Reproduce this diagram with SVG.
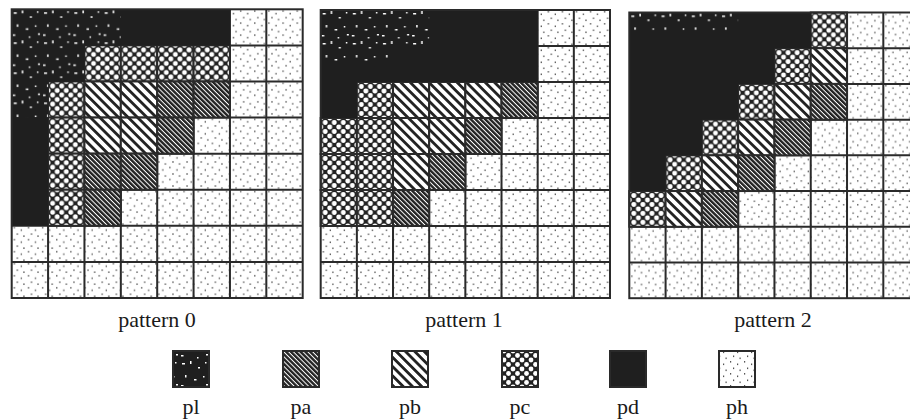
<svg xmlns="http://www.w3.org/2000/svg" width="910" height="420" viewBox="0 0 910 420">
<style>
.lbl{font-family:"Liberation Serif","Times New Roman",serif;font-size:22px;fill:#1a1a1a;text-anchor:middle}
.grid{fill:none;stroke:#2a2a2a;stroke-width:2}
.pa{fill:url(#pa);stroke:#2a2a2a;stroke-width:2}
.pb{fill:url(#pb);stroke:#2a2a2a;stroke-width:2}
.pc{fill:url(#pc);stroke:#2a2a2a;stroke-width:2}
.pd{fill:#1f1f1f}
.pl{fill:url(#pl)}
.ph{fill:url(#ph)}
.box{stroke:#2a2a2a;stroke-width:2}
</style>
<defs>
<pattern id="ph" width="14" height="12" patternUnits="userSpaceOnUse">
<rect width="14" height="12" fill="#fff"/>
<rect x="2" y="1" width="1.2" height="1.6" fill="#555"/>
<rect x="9" y="3.5" width="1.2" height="1.6" fill="#555"/>
<rect x="5" y="7.5" width="1.2" height="1.6" fill="#555"/>
<rect x="11.5" y="9.5" width="1.2" height="1.6" fill="#555"/>
</pattern>
<pattern id="pa" width="10" height="3.4" patternUnits="userSpaceOnUse" patternTransform="rotate(45)">
<rect width="10" height="3.4" fill="#222"/>
<rect y="0" width="10" height="1" fill="#fff"/>
</pattern>
<pattern id="pb" width="10" height="6.6" patternUnits="userSpaceOnUse" patternTransform="rotate(45)">
<rect width="10" height="6.6" fill="#fff"/>
<rect y="0" width="10" height="2.8" fill="#222"/>
</pattern>
<pattern id="pc" width="9" height="9" patternUnits="userSpaceOnUse">
<rect width="9" height="9" fill="#222"/>
<circle cx="0" cy="0" r="2.4" fill="#fff"/>
<circle cx="9" cy="0" r="2.4" fill="#fff"/>
<circle cx="0" cy="9" r="2.4" fill="#fff"/>
<circle cx="9" cy="9" r="2.4" fill="#fff"/>
<circle cx="4.5" cy="4.5" r="2.4" fill="#fff"/>
</pattern>
<pattern id="pl" width="30" height="30" patternUnits="userSpaceOnUse">
<rect width="30" height="30" fill="#1f1f1f"/>
<g fill="#fff">
<rect x="2" y="3" width="3" height="1.5"/><rect x="10" y="1" width="1.5" height="3"/>
<rect x="18" y="7" width="2" height="1.5"/><rect x="25" y="2" width="1.5" height="1.5"/>
<rect x="5" y="15" width="1.5" height="2.5"/><rect x="14" y="19" width="2.5" height="1.5"/>
<rect x="23" y="16" width="1.5" height="1.5"/><rect x="1" y="25" width="2.5" height="1.5"/>
<rect x="17" y="27" width="1.5" height="1.5"/><rect x="26" y="24" width="2" height="1.5"/>
</g>
</pattern>
<path id="lines" d="M36 0V288M72 0V288M108 0V288M144 0V288M180 0V288M216 0V288M252 0V288M0 36H288M0 72H288M0 108H288M0 144H288M0 180H288M0 216H288M0 252H288"/>
</defs>

<g id="pattern0" transform="translate(11.7 9.3) scale(1.0104 1.0024)">
<rect class="ph" width="288" height="288"/>
<use href="#lines" class="grid"/>
<rect class="pc" x="72" y="36" width="36" height="36"/><rect class="pc" x="108" y="36" width="36" height="36"/><rect class="pc" x="144" y="36" width="36" height="36"/><rect class="pc" x="180" y="36" width="36" height="36"/>
<rect class="pc" x="36" y="72" width="36" height="36"/><rect class="pb" x="72" y="72" width="36" height="36"/><rect class="pb" x="108" y="72" width="36" height="36"/><rect class="pa" x="144" y="72" width="36" height="36"/><rect class="pa" x="180" y="72" width="36" height="36"/>
<rect class="pc" x="36" y="108" width="36" height="36"/><rect class="pb" x="72" y="108" width="36" height="36"/><rect class="pb" x="108" y="108" width="36" height="36"/><rect class="pa" x="144" y="108" width="36" height="36"/>
<rect class="pc" x="36" y="144" width="36" height="36"/><rect class="pa" x="72" y="144" width="36" height="36"/><rect class="pa" x="108" y="144" width="36" height="36"/>
<rect class="pc" x="36" y="180" width="36" height="36"/><rect class="pa" x="72" y="180" width="36" height="36"/>
<path class="pd" d="M0 0H216V36H72V72H36V216H0Z"/>
<path class="pl" d="M0 0H108V36H72V72H36V108H0Z"/>
<rect class="grid" width="288" height="288"/>
</g>

<g id="pattern1" transform="translate(320.7 10) scale(1.0045 1)">
<rect class="ph" width="288" height="288"/>
<use href="#lines" class="grid"/>
<rect class="pc" x="36" y="72" width="36" height="36"/><rect class="pb" x="72" y="72" width="36" height="36"/><rect class="pb" x="108" y="72" width="36" height="36"/><rect class="pb" x="144" y="72" width="36" height="36"/><rect class="pa" x="180" y="72" width="36" height="36"/>
<rect class="pc" x="0" y="108" width="36" height="36"/><rect class="pc" x="36" y="108" width="36" height="36"/><rect class="pb" x="72" y="108" width="36" height="36"/><rect class="pb" x="108" y="108" width="36" height="36"/><rect class="pa" x="144" y="108" width="36" height="36"/>
<rect class="pc" x="0" y="144" width="36" height="36"/><rect class="pc" x="36" y="144" width="36" height="36"/><rect class="pb" x="72" y="144" width="36" height="36"/><rect class="pa" x="108" y="144" width="36" height="36"/>
<rect class="pc" x="0" y="180" width="36" height="36"/><rect class="pc" x="36" y="180" width="36" height="36"/><rect class="pa" x="72" y="180" width="36" height="36"/>
<path class="pd" d="M0 0H216V72H36V108H0Z"/>
<path class="pl" d="M0 0H108V36H72V54H0Z"/>
<rect class="grid" width="288" height="288"/>
</g>

<g id="pattern2" transform="translate(629.3 12.5) scale(1.008 0.992)">
<rect class="ph" width="288" height="288"/>
<use href="#lines" class="grid"/>
<rect class="pc" x="180" y="0" width="36" height="36"/>
<rect class="pc" x="144" y="36" width="36" height="36"/><rect class="pb" x="180" y="36" width="36" height="36"/>
<rect class="pc" x="108" y="72" width="36" height="36"/><rect class="pb" x="144" y="72" width="36" height="36"/><rect class="pa" x="180" y="72" width="36" height="36"/>
<rect class="pc" x="72" y="108" width="36" height="36"/><rect class="pb" x="108" y="108" width="36" height="36"/><rect class="pa" x="144" y="108" width="36" height="36"/>
<rect class="pc" x="36" y="144" width="36" height="36"/><rect class="pb" x="72" y="144" width="36" height="36"/><rect class="pa" x="108" y="144" width="36" height="36"/>
<rect class="pc" x="0" y="180" width="36" height="36"/><rect class="pb" x="36" y="180" width="36" height="36"/><rect class="pa" x="72" y="180" width="36" height="36"/>
<path class="pd" d="M0 0H180V36H144V72H108V108H72V144H36V180H0Z"/>
<path class="pl" d="M0 0H108V18H0Z"/>
<rect class="grid" width="288" height="288"/>
</g>

<g id="captions">
<text class="lbl" x="157" y="327">pattern 0</text>
<text class="lbl" x="464" y="327">pattern 1</text>
<text class="lbl" x="773" y="327">pattern 2</text>
</g>

<g id="legend-pl"><rect class="pl box" x="173" y="351" width="36" height="36"/><text class="lbl" x="191" y="414">pl</text></g>
<g id="legend-pa"><rect class="pa" x="283" y="351" width="36" height="36"/><text class="lbl" x="301" y="414">pa</text></g>
<g id="legend-pb"><rect class="pb" x="392" y="351" width="36" height="36"/><text class="lbl" x="410" y="414">pb</text></g>
<g id="legend-pc"><rect class="pc" x="502" y="351" width="36" height="36"/><text class="lbl" x="520" y="414">pc</text></g>
<g id="legend-pd"><rect class="pd box" x="610" y="351" width="36" height="36"/><text class="lbl" x="628" y="414">pd</text></g>
<g id="legend-ph"><rect class="ph box" x="719" y="351" width="36" height="36"/><text class="lbl" x="737" y="414">ph</text></g>
</svg>
